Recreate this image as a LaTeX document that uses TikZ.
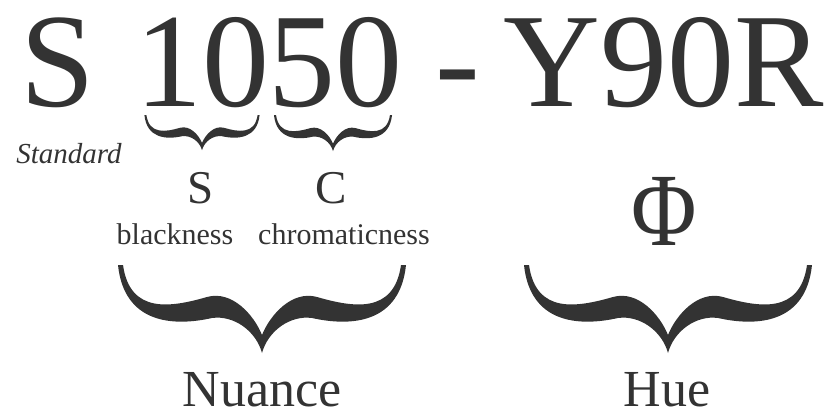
\documentclass[tikz,border=0pt]{standalone}
\usepackage{fontspec}
\setmainfont{Liberation Serif}
\usepackage{xcolor}
\usepackage{tikz}
\usetikzlibrary{positioning}

\definecolor{ink}{HTML}{333333}

\tikzset{
  cbrace/.pic={
    \fill[ink] (0,88) .. controls (-6,66) and (-28,50) .. (-50,53)
      .. controls (-90,62) and (-138,58) .. (-144,0) -- (-139,0)
      .. controls (-132,50) and (-90,42) .. (-55,32)
      .. controls (-30,25) and (-8,50) .. (0,70)
      .. controls (8,50) and (30,25) .. (55,32)
      .. controls (90,42) and (132,50) .. (139,0) -- (144,0)
      .. controls (138,58) and (90,62) .. (50,53)
      .. controls (28,50) and (6,66) .. (0,88) -- cycle;
  }
}

\begin{document}
\begin{tikzpicture}[x=1pt,y=-1pt,every node/.style={inner sep=0pt,text=ink,anchor=base},
  big/.style={font=\fontsize{134}{138}\selectfont},
  mid/.style={font=\fontsize{47}{50}\selectfont},
  small/.style={font=\fontsize{30}{32}\selectfont},
  term/.style={font=\fontsize{52}{56}\selectfont,text depth=0pt}]
    \useasboundingbox (0,0) rectangle (831,418);

    \node[big] (sys) at (58,106) {S};
    \node[big] (num) at (269,106) {1050};
    \node[big] (dash) at (458,106) {-};
    \node[big] (hcode) at (664,106) {Y90R};
    \node[font=\fontsize{29}{31}\selectfont\itshape] (std) at (69,163) {Standard};

    \pic[scale=0.4] at (202,115) {cbrace};
    \pic[scale=0.41] at (333,115) {cbrace};

    \node[mid] (s) at (201,203) {S};
    \node[mid] (c) at (331,203) {C};
    \node[small] (black) at (175,244) {blackness};
    \node[small] (chroma) at (344,244) {chromaticness};
    \node[font=\fontsize{104}{108}\selectfont] (phi) at (664,245) {\scalebox{0.86}[1]{Φ}};

    \pic at (262,265) {cbrace};
    \pic at (668,265) {cbrace};

    \node[term] (nuance) at (262,406) {Nuance};
    \node[term] (hue) at (667,406) {Hue};
\end{tikzpicture}
\end{document}
